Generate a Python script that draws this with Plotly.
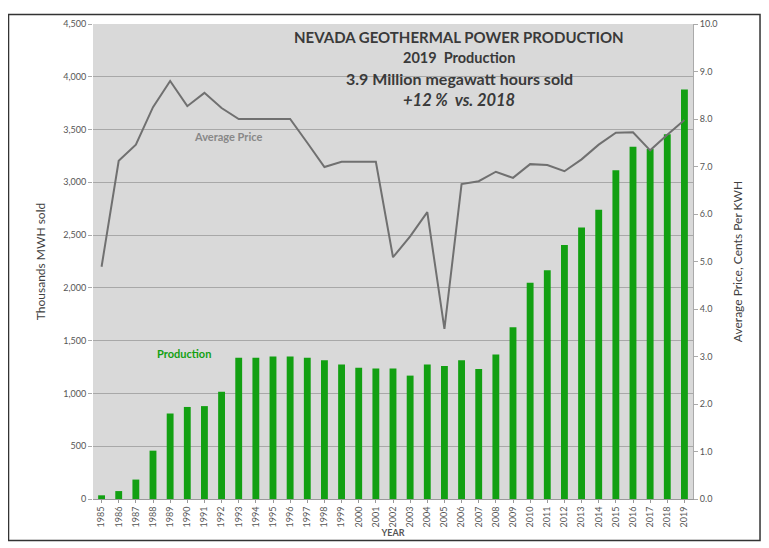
import plotly.graph_objects as go

years = [str(y) for y in range(1985, 2020)]
production = [35, 75, 184, 458, 810, 872, 880, 1016, 1337, 1337, 1349, 1349, 1337, 1315,
              1275, 1243, 1237, 1237, 1169, 1275, 1259, 1315, 1231, 1368, 1627, 2048,
              2166, 2406, 2571, 2740, 3114, 3338, 3316, 3456, 3880]
avg_price = [4.89, 7.12, 7.46, 8.25, 8.8, 8.27, 8.55, 8.23, 8.0, 8.0, 8.0, 8.0, 7.5, 6.99,
             7.1, 7.1, 7.1, 5.09, 5.53, 6.04, 3.58, 6.63, 6.69, 6.89, 6.76, 7.05, 7.03,
             6.9, 7.15, 7.46, 7.71, 7.72, 7.34, 7.67, 7.98]

left_ticks = list(range(0, 4501, 500))
left_labels = [f"{v:,}" for v in left_ticks]
right_ticks = [i * 1.0 for i in range(11)]
right_labels = [f"{v:.1f}" for v in right_ticks]

FONT = "Liberation Sans Narrow, Lato, Arial Narrow, sans-serif"
HEAD = "Lato, Open Sans, sans-serif"
GREEN = "#12a012"
TITLE_C = "#3a3a3a"

fig = go.Figure()
fig.add_trace(go.Bar(x=years, y=production, marker=dict(color=GREEN, line=dict(width=0)),
                     width=0.4, name="Production", yaxis="y"))
fig.add_trace(go.Scatter(x=years, y=avg_price, mode="lines",
                         line=dict(color="#707070", width=2), name="Average Price",
                         yaxis="y2"))

def note(text, x, y, size, color, weight="normal"):
    return dict(text=text, x=x, y=y, xref="paper", yref="paper", showarrow=False,
                xanchor="center", yanchor="middle",
                font=dict(family=HEAD, size=size, color=color, weight=weight))

fig.update_layout(
    width=761, height=540,
    margin=dict(l=85, r=76, t=10, b=49),
    paper_bgcolor="white",
    plot_bgcolor="#d9d9d9",
    showlegend=False,
    xaxis=dict(type="category", tickangle=-90, tickfont=dict(family=FONT, size=9, color="#555555"),
               ticks="outside", ticklen=3, tickcolor="#999999", showline=True,
               linecolor="#999999", showgrid=False,
               title=dict(text="<b>YEAR</b>", font=dict(family=FONT, size=9, color="#555555"),
                          standoff=2)),
    yaxis=dict(range=[0, 4500], tickvals=left_ticks, ticktext=left_labels,
               tickfont=dict(family=FONT, size=9, color="#555555"),
               showgrid=True, gridcolor="#a8a8a8", gridwidth=1, zeroline=False,
               ticks="outside", ticklen=4, tickcolor="#aaaaaa",
               title=dict(text="Thousands MWH sold", font=dict(family=HEAD, size=12, color="#404040"),
                          standoff=15)),
    yaxis2=dict(range=[0, 10], tickvals=right_ticks, ticktext=right_labels, overlaying="y",
                side="right", showgrid=False, zeroline=False,
                tickfont=dict(family=FONT, size=9, color="#555555"),
                ticks="outside", ticklen=4, tickcolor="#aaaaaa",
                showline=True, linecolor="#aaaaaa",
                title=dict(text="Average Price, Cents Per KWH",
                           font=dict(family=HEAD, size=12, color="#404040"), standoff=17)),
    shapes=[
        dict(type="rect", xref="paper", yref="paper", x0=-0.1408, x1=1.1117, y0=-0.0873, y1=1.0198,
             fillcolor="rgba(0,0,0,0)", line=dict(color="#333333", width=1.5)),
    ],
    annotations=[
        note("NEVADA GEOTHERMAL POWER PRODUCTION", 0.61, 0.973, 15, TITLE_C, "bold"),
        note("2019&nbsp;&nbsp;Production", 0.61, 0.93, 14.5, TITLE_C, "bold"),
        note("3.9 Million megawatt hours sold", 0.61, 0.885, 16, TITLE_C, "bold"),
        note("<i>+12 %&nbsp;&nbsp;vs. 2018</i>", 0.61, 0.839, 16.5, TITLE_C, "bold"),
        note("Average Price", 0.225, 0.763, 11, "#888888", "bold"),
        note("Production", 0.152, 0.306, 11, GREEN, "bold"),
    ],
)

fig.write_html("out.html")
